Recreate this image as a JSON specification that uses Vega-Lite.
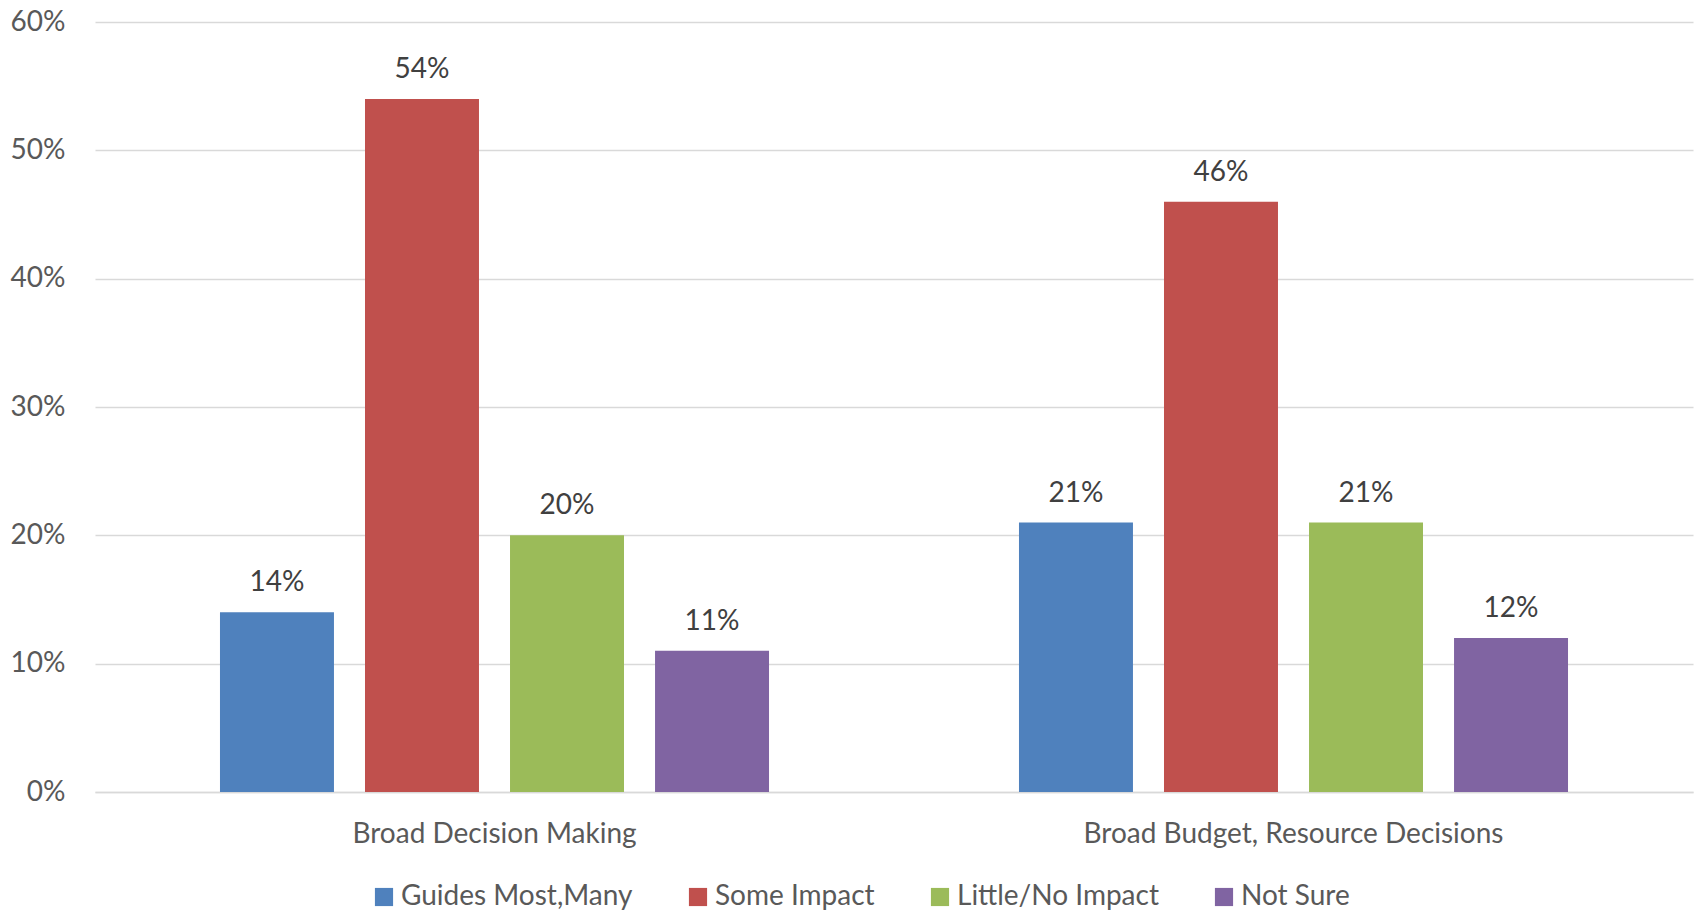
{
  "$schema": "https://vega.github.io/schema/vega-lite/v6.json",
  "autosize": "none",
  "width": 1598,
  "height": 770,
  "padding": {"left": 95, "top": 22, "right": 3, "bottom": 121},
  "background": "white",
  "config": {
    "font": "Lato",
    "view": {"stroke": null},
    "axis": {"labelFont": "Lato", "labelColor": "#595959", "labelFontSize": 28}
  },
  "data": {
    "values": [
      {"category": "Broad Decision Making", "series": "Guides Most,Many", "value": 0.14},
      {"category": "Broad Decision Making", "series": "Some Impact", "value": 0.54},
      {"category": "Broad Decision Making", "series": "Little/No Impact", "value": 0.20},
      {"category": "Broad Decision Making", "series": "Not Sure", "value": 0.11},
      {"category": "Broad Budget, Resource Decisions", "series": "Guides Most,Many", "value": 0.21},
      {"category": "Broad Budget, Resource Decisions", "series": "Some Impact", "value": 0.46},
      {"category": "Broad Budget, Resource Decisions", "series": "Little/No Impact", "value": 0.21},
      {"category": "Broad Budget, Resource Decisions", "series": "Not Sure", "value": 0.12}
    ]
  },
  "encoding": {
    "x": {
      "field": "category", "type": "nominal", "sort": null, "title": null,
      "scale": {"paddingInner": 0.274, "paddingOuter": 0.137},
      "axis": {"labelAngle": 0, "ticks": false, "domain": true, "domainColor": "#D9D9D9", "domainWidth": 1.5, "labelPadding": 28, "labelFontSize": 28, "labelLimit": 800}
    },
    "xOffset": {
      "field": "series", "type": "nominal", "sort": ["Guides Most,Many", "Some Impact", "Little/No Impact", "Not Sure"],
      "scale": {"paddingInner": 0.214, "paddingOuter": 0.107}
    },
    "y": {
      "field": "value", "type": "quantitative", "title": null,
      "scale": {"domain": [0, 0.6], "nice": false},
      "axis": {"format": ".0%", "values": [0, 0.1, 0.2, 0.3, 0.4, 0.5, 0.6], "labelOverlap": false, "ticks": false, "domain": false, "gridColor": "#D9D9D9", "gridWidth": 1.5, "labelPadding": 30, "labelFontSize": 28}
    }
  },
  "layer": [
    {
      "mark": {"type": "bar"},
      "encoding": {
        "color": {
          "field": "series", "type": "nominal", "sort": ["Guides Most,Many", "Some Impact", "Little/No Impact", "Not Sure"],
          "scale": {"domain": ["Guides Most,Many", "Some Impact", "Little/No Impact", "Not Sure"], "range": ["#4F81BD", "#C0504D", "#9BBB59", "#8064A2"]},
          "legend": {
            "title": null, "orient": "none", "direction": "horizontal", "columns": 4,
            "legendX": 275, "legendY": 861,
            "symbolType": "square", "symbolSize": 330, "symbolStrokeWidth": 0,
            "labelFontSize": 28, "labelColor": "#595959", "labelFont": "Lato",
            "labelOffset": 3, "columnPadding": 51, "labelLimit": 400
          }
        }
      }
    },
    {
      "mark": {"type": "text", "baseline": "alphabetic", "dy": -21, "fontSize": 28, "color": "#404040"},
      "encoding": {
        "text": {"field": "value", "type": "quantitative", "format": ".0%"}
      }
    }
  ]
}
